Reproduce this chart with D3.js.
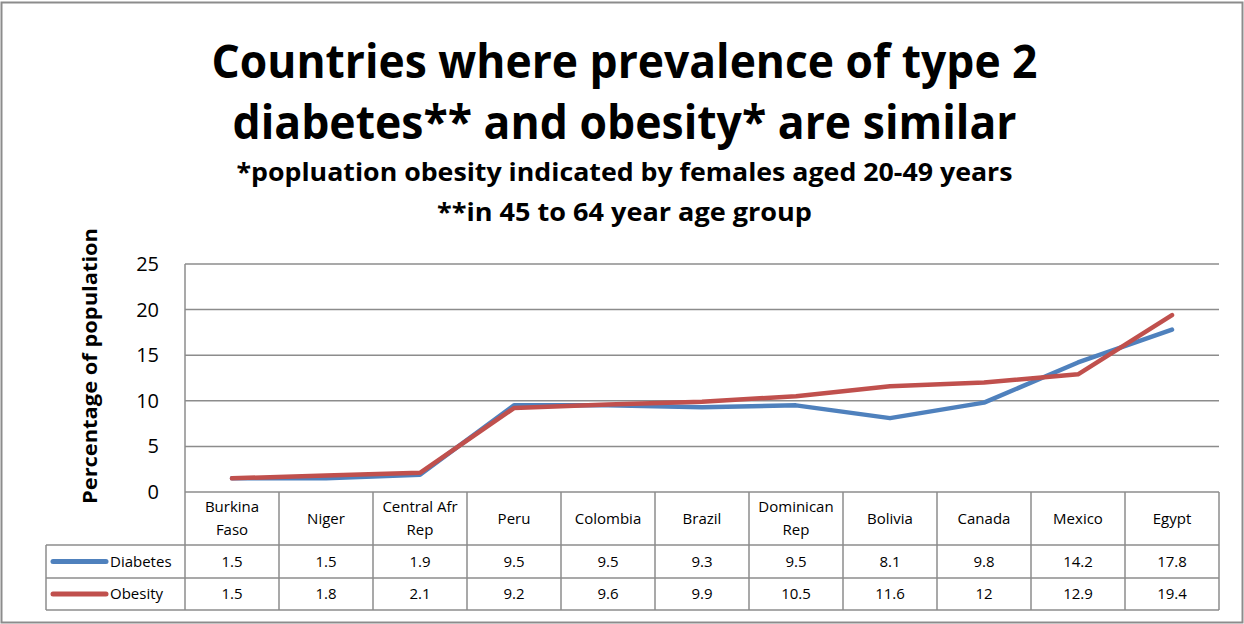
<!DOCTYPE html>
<html>
<head>
<meta charset="utf-8">
<script src="https://cdn.jsdelivr.net/npm/d3@7"></script>
<style>
  body { margin: 0; background: #fff; }
  svg { display: block; font-family: "Open Sans", sans-serif; }
</style>
</head>
<body>
<svg id="chart"></svg>
<script>
// data
const countries = [
  ['Burkina', 'Faso'], ['Niger'], ['Central Afr', 'Rep'], ['Peru'], ['Colombia'],
  ['Brazil'], ['Dominican', 'Rep'], ['Bolivia'], ['Canada'], ['Mexico'], ['Egypt']
];
const diabetes = [1.5, 1.5, 1.9, 9.5, 9.5, 9.3, 9.5, 8.1, 9.8, 14.2, 17.8];
const obesity = [1.5, 1.8, 2.1, 9.2, 9.6, 9.9, 10.5, 11.6, 12, 12.9, 19.4];
const yTicks = [0, 5, 10, 15, 20, 25];

const series = [
  { name: 'Diabetes', values: diabetes, color: '#4f81bd' },
  { name: 'Obesity', values: obesity, color: '#c0504d' }
];

//size and layout
const W = 1244, H = 624;
const plot = { left: 185, right: 1219, top: 264, bottom: 492 };
const rowH = [53, 33, 32]; // header row, diabetes row, obesity row
const legendLeft = 46;
const gridColor = '#8c8c8c';

const svg = d3.select('#chart').attr('width', W).attr('height', H);

// outer frame
svg.append('rect')
  .attr('x', 1.5).attr('y', 2.5)
  .attr('width', W - 3).attr('height', H - 4)
  .attr('fill', 'none').attr('stroke', gridColor).attr('stroke-width', 2);

//titles
const titles = [
  { text: 'Countries where prevalence of type 2', y: 78, size: 47, len: 826 },
  { text: 'diabetes** and obesity* are similar', y: 139, size: 47, len: 784 },
  { text: '*popluation obesity indicated by females aged 20-49 years', y: 181, size: 25, len: 776 },
  { text: '**in 45 to 64 year age group', y: 221, size: 25, len: 375 }
];
svg.selectAll('.title').data(titles).enter().append('text')
  .attr('class', 'title')
  .attr('x', 624.5).attr('y', d => d.y)
  .attr('text-anchor', 'middle')
  .style('font-weight', 'bold')
  .style('font-size', d => d.size + 'px')
  .attr('textLength', d => d.len)
  .attr('lengthAdjust', 'spacingAndGlyphs')
  .text(d => d.text);

//scales
const x = d3.scaleBand()
  .domain(d3.range(countries.length))
  .range([plot.left, plot.right]);
const y = d3.scaleLinear().domain([0, 25]).range([plot.bottom, plot.top]);

//gridlines
svg.append('g').selectAll('line').data(yTicks).enter().append('line')
  .attr('x1', plot.left).attr('x2', plot.right)
  .attr('y1', d => y(d)).attr('y2', d => y(d))
  .attr('stroke', gridColor).attr('stroke-width', 1.5);

//y axis
const yAxis = svg.append('g')
  .attr('transform', `translate(${plot.left},0)`)
  .call(d3.axisLeft(y).tickValues(yTicks).tickSize(0).tickPadding(26));
yAxis.select('.domain')
  .attr('stroke', gridColor).attr('stroke-width', 1.5)
  .attr('d', `M0,${plot.top}V${plot.bottom + rowH[0] + rowH[1] + rowH[2]}`);
yAxis.selectAll('text')
  .style('font-family', '"Open Sans", sans-serif')
  .style('font-size', '20px')
  .attr('fill', '#000');

svg.append('text')
  .attr('transform', 'translate(97,366) rotate(-90)')
  .attr('text-anchor', 'middle')
  .style('font-weight', 'bold')
  .style('font-size', '20px')
  .attr('textLength', 276)
  .attr('lengthAdjust', 'spacingAndGlyphs')
  .text('Percentage of population');

//lines
const line = d3.line()
  .x((d, i) => x(i) + x.bandwidth() / 2)
  .y(d => y(d));

svg.append('g').selectAll('path').data(series).enter().append('path')
  .attr('d', d => line(d.values))
  .attr('fill', 'none')
  .attr('stroke', d => d.color)
  .attr('stroke-width', 4.5)
  .attr('stroke-linecap', 'round')
  .attr('stroke-linejoin', 'round');

//data table
const table = svg.append('g');
const headTop = plot.bottom;
const headBottom = headTop + rowH[0];
const rowTops = [headBottom, headBottom + rowH[1]];
const tableBottom = rowTops[1] + rowH[2];

// column separators
table.selectAll('.col').data(d3.range(1, countries.length + 1)).enter().append('line')
  .attr('x1', i => x(i) === undefined ? plot.right : x(i))
  .attr('x2', i => x(i) === undefined ? plot.right : x(i))
  .attr('y1', headTop).attr('y2', tableBottom)
  .attr('stroke', gridColor).attr('stroke-width', 1.5);

// horizontal rules
[headBottom, rowTops[1], tableBottom].forEach(yy => {
  table.append('line')
    .attr('x1', legendLeft).attr('x2', plot.right)
    .attr('y1', yy).attr('y2', yy)
    .attr('stroke', gridColor).attr('stroke-width', 1.5);
});
table.append('line')
  .attr('x1', legendLeft).attr('x2', legendLeft)
  .attr('y1', headBottom).attr('y2', tableBottom)
  .attr('stroke', gridColor).attr('stroke-width', 1.5);

// header labels
const head = table.selectAll('.head').data(countries).enter().append('text')
  .attr('class', 'head')
  .attr('text-anchor', 'middle')
  .style('font-size', '15px')
  .attr('x', (d, i) => x(i) + x.bandwidth() / 2)
  .attr('y', d => (headTop + headBottom) / 2 + 5 - (d.length - 1) * 11.5);
head.selectAll('tspan').data(d => d).enter().append('tspan')
  .attr('x', function () { return d3.select(this.parentNode).attr('x'); })
  .attr('dy', (d, i) => i === 0 ? 0 : 23)
  .text(d => d);

// value rows
series.forEach((s, r) => {
  const cy = rowTops[r] + (r === 0 ? rowH[1] : rowH[2]) / 2;
  table.append('line')
    .attr('x1', 53).attr('x2', 106)
    .attr('y1', cy).attr('y2', cy)
    .attr('stroke', s.color).attr('stroke-width', 5)
    .attr('stroke-linecap', 'round');
  table.append('text')
    .attr('x', 110).attr('y', cy + 5)
    .style('font-size', '15px')
    .text(s.name);
  table.selectAll('.v' + r).data(s.values).enter().append('text')
    .attr('x', (d, i) => x(i) + x.bandwidth() / 2)
    .attr('y', cy + 5)
    .attr('text-anchor', 'middle')
    .style('font-size', '15px')
    .text(d => d);
});
</script>
</body>
</html>
